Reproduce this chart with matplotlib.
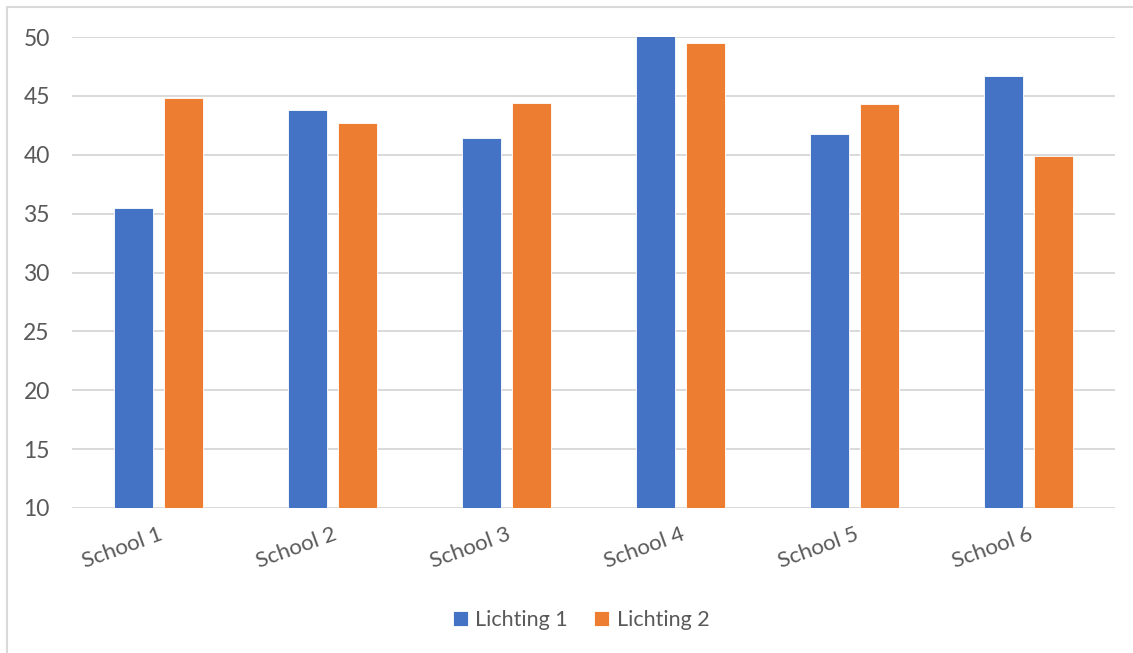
import numpy as np
import matplotlib
matplotlib.use("Agg")
import matplotlib.pyplot as plt
from matplotlib.patches import Rectangle

schools = ["School 1", "School 2", "School 3", "School 4", "School 5", "School 6"]
lichting_1 = [35.5, 43.8, 41.4, 50.1, 41.8, 46.7]
lichting_2 = [44.8, 42.7, 44.4, 49.5, 44.3, 39.9]
yticks = [10, 15, 20, 25, 30, 35, 40, 45, 50]

BLUE = "#4472C4"
ORANGE = "#ED7D31"
GRID = "#D9D9D9"
TEXT = "#595959"

plt.rcParams["font.family"] = ["Lato", "DejaVu Sans"]

W, H = 1133, 653
fig = plt.figure(figsize=(W / 100, H / 100), dpi=100)
# plot area in pixel coordinates
left, right, top, bottom = 72, 1115, 37, 508
ax = fig.add_axes([left / W, 1 - bottom / H, (right - left) / W, (bottom - top) / H])

# chart frame (left and top edges visible)
fig.patches.append(Rectangle((7 / W, -0.1), 1.2, 1 - 7 / H + 0.1, transform=fig.transFigure,
                             fill=False, edgecolor="#D9D9D9", lw=1.5))

x = np.arange(len(schools))
bw = 0.224
off = 0.144
ax.bar(x - off, lichting_1, bw, bottom=0, color=BLUE, edgecolor="white", lw=0.6,
       label="Lichting 1", zorder=3)
ax.bar(x + off, lichting_2, bw, bottom=0, color=ORANGE, edgecolor="white", lw=0.6,
       label="Lichting 2", zorder=3)

ax.set_xlim(-0.5, len(schools) - 0.5)
ax.set_ylim(10, 50)
ax.set_yticks(yticks)
ax.yaxis.grid(True, color=GRID, lw=1.4, zorder=0)
ax.set_axisbelow(True)
for s in ax.spines.values():
    s.set_visible(False)
ax.axhline(10, color=GRID, lw=1.4, zorder=1)

ax.tick_params(axis="y", length=0, pad=16, labelsize=16.5, labelcolor=TEXT)
ax.tick_params(axis="x", length=0, pad=12, labelsize=16, labelcolor=TEXT)
ax.set_xticks(x)
ax.set_xticklabels(schools, rotation=20, ha="right", rotation_mode="anchor")

leg = fig.legend(loc="center", bbox_to_anchor=(581 / W, 1 - 620 / H), ncol=2, frameon=False,
                 fontsize=15.5, handlelength=0.7, handleheight=0.7, handletextpad=0.35,
                 columnspacing=1.2)
for t in leg.get_texts():
    t.set_color(TEXT)

fig.savefig("out.png", dpi=100)
